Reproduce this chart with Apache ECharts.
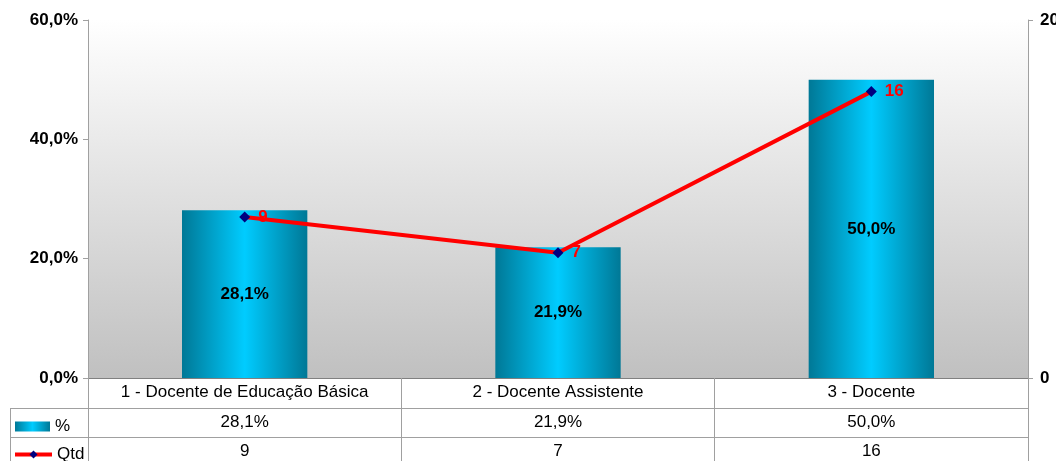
<!DOCTYPE html>
<html>
<head>
<meta charset="utf-8">
<script src="https://cdn.jsdelivr.net/npm/echarts@6/dist/echarts.min.js"></script>
<style>
html,body{margin:0;padding:0;background:#fff;}
#c{width:1056px;height:461px;}
</style>
</head>
<body>
<div id="c"></div>
<script>
const categories = ['1 - Docente de Educação Básica', '2 - Docente Assistente', '3 - Docente'];
const pctValues = [28.1, 21.9, 50.0];
const qtdValues = [9, 7, 16];
const leftTicks = [0, 20, 40, 60];
const rightTicks = [0, 20];

const FONT = 'Liberation Sans, Arial, sans-serif';
const fmtPct = v => v.toFixed(1).replace('.', ',') + '%';

const chart = echarts.init(document.getElementById('c'));
const barGrad = new echarts.graphic.LinearGradient(0, 0, 1, 0, [
  {offset: 0, color: '#007896'},
  {offset: 0.5, color: '#00ccff'},
  {offset: 1, color: '#007896'}
]);
const bgGrad = new echarts.graphic.LinearGradient(0, 0, 0, 1, [
  {offset: 0, color: '#ffffff'},
  {offset: 1, color: '#c0c0c0'}
]);

const option = {
  animation: false,
  textStyle: {fontFamily: FONT},
  grid: {left: 88, right: 28, top: 20, bottom: 83, show: true, backgroundColor: bgGrad, borderWidth: 0,
         containLabel: false, outerBoundsMode: 'none'},
  legend: [
    {orient: 'vertical', left: 15, top: 418, padding: 0, icon: 'rect',
     data: ['%'], itemWidth: 35, itemHeight: 10, itemGap: 0,
     textStyle: {fontFamily: FONT, fontSize: 17, color: '#000'}},
    {orient: 'vertical', left: 13, top: 446, padding: 0, data: ['Qtd'], itemWidth: 37, itemHeight: 10, itemGap: 0,
     lineStyle: {width: 4},
     textStyle: {fontFamily: FONT, fontSize: 17, color: '#000'}}
  ],
  xAxis: {
    type: 'category', data: categories, boundaryGap: true,
    axisLine: {show: true, lineStyle: {color: '#808080', width: 1}},
    axisTick: {show: true, length: 83, interval: 0, lineStyle: {color: '#a0a0a0'}},
    axisLabel: {
      interval: 0, margin: 0,
      formatter: (v, i) => '{a|' + v + '}\n{a|' + fmtPct(pctValues[i]) + '}\n{a|' + qtdValues[i] + '}',
      rich: {a: {fontFamily: FONT, fontSize: 17, color: '#000', lineHeight: 29.5, align: 'center'}}
    },
    splitLine: {show: false}
  },
  yAxis: [
    {type: 'value', min: 0, max: 60, interval: 20, position: 'left',
     axisLine: {show: true, lineStyle: {color: '#a0a0a0'}},
     axisTick: {show: true, length: 5, lineStyle: {color: '#a0a0a0'}},
     axisLabel: {margin: 10, fontFamily: FONT, fontSize: 17, fontWeight: 'bold', color: '#000',
       formatter: v => leftTicks.includes(v) ? fmtPct(v) : ''},
     splitLine: {show: false}},
    {type: 'value', min: 0, max: 20, interval: 20, position: 'right',
     axisLine: {show: true, lineStyle: {color: '#a0a0a0'}},
     axisTick: {show: true, length: 5, lineStyle: {color: '#a0a0a0'}},
     axisLabel: {margin: 12, fontFamily: FONT, fontSize: 17, fontWeight: 'bold', color: '#000',
       formatter: v => rightTicks.includes(v) ? String(v) : ''},
     splitLine: {show: false}}
  ],
  series: [
    {name: '%', type: 'bar', yAxisIndex: 0, data: pctValues, barWidth: '40%',
     itemStyle: {color: barGrad},
     label: {show: true, position: 'inside', formatter: p => fmtPct(p.value),
       fontFamily: FONT, fontSize: 17, fontWeight: 'bold', color: '#000'}},
    {name: 'Qtd', type: 'line', yAxisIndex: 1, data: qtdValues, z: 5,
     lineStyle: {color: '#ff0000', width: 4},
     itemStyle: {color: '#000080'},
     symbol: 'diamond', symbolSize: 11,
     label: {show: true, position: 'right', distance: 8, color: '#ff0000',
       fontFamily: FONT, fontSize: 17, fontWeight: 'bold'}}
  ],
  graphic: [
    {type: 'line', shape: {x1: 10, y1: 408.5, x2: 1028, y2: 408.5}, style: {stroke: '#a0a0a0', lineWidth: 1}, silent: true},
    {type: 'line', shape: {x1: 10, y1: 437.5, x2: 1028, y2: 437.5}, style: {stroke: '#a0a0a0', lineWidth: 1}, silent: true},
    {type: 'line', shape: {x1: 10.5, y1: 408, x2: 10.5, y2: 461}, style: {stroke: '#a0a0a0', lineWidth: 1}, silent: true}
  ]
};
chart.setOption(option);
</script>
</body>
</html>
